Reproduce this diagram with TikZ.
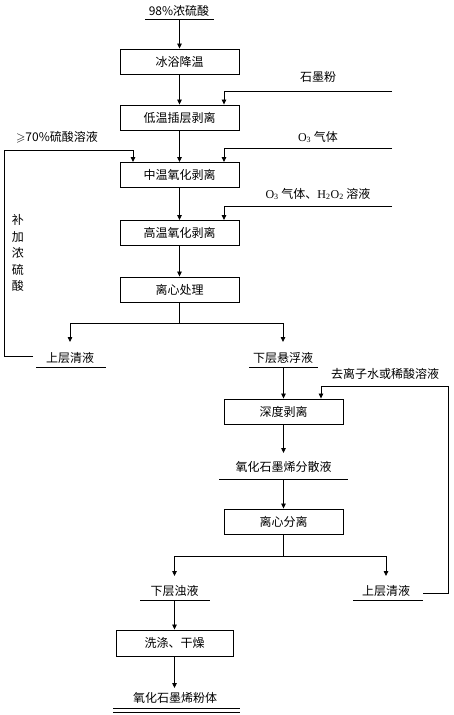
\documentclass[tikz,border=0pt]{standalone}
\usepackage{amssymb}
\usepackage{fontspec}
\newfontfamily\cjk{Noto Sans CJK SC}
\newfontfamily\tnr{Liberation Serif}
\usetikzlibrary{arrows.meta}
\begin{document}
\begin{tikzpicture}[x=1pt,y=-1pt,
  every node/.style={font=\cjk\fontsize{12}{14}\selectfont},
  box/.style={draw, line width=0.9pt, minimum width=119pt, minimum height=25pt, inner sep=0pt},
  lab/.style={inner sep=0pt, text height=10pt, text depth=2pt},
  ln/.style={line width=0.8pt},
  arr/.style={ln, -{Triangle[length=5pt,width=4.5pt]}}]
\useasboundingbox (0,0) rectangle (454,715);

% main column boxes
\node[box] (b1) at (179.5,61.5) {冰浴降温};
\node[box] (b2) at (179.5,117.5) {低温插层剥离};
\node[box] (b3) at (179.5,175) {中温氧化剥离};
\node[box] (b4) at (179.5,233) {高温氧化剥离};
\node[box] (b5) at (179.5,289.5) {离心处理};
\node[box] (b6) at (283.5,411.5) {深度剥离};
\node[box] (b7) at (283.5,521.5) {离心分离};
\node[box, minimum width=117pt, minimum height=26pt] (b8) at (174.5,643) {洗涤、干燥};

% labels
\node[lab] (t0) at (179,11) {98\%浓硫酸};
\node[lab] (t1) at (318,77) {石墨粉};
\node[lab] (t2) at (318,137) {{\tnr O\textsubscript{3}} 气体};
\node[lab] (t3) at (57,137) {$\geqslant$70\%硫酸溶液};
\node[lab] (t4) at (318,194) {{\tnr O\textsubscript{3}} 气体、{\tnr H\textsubscript{2}O\textsubscript{2}} 溶液};
\node[inner sep=0pt, align=center, font=\cjk\fontsize{12}{16.5}\selectfont] (t5) at (18,253) {补\\加\\浓\\硫\\酸};
\node[lab] (t6) at (70,358) {上层清液};
\node[lab] (t7) at (283,358) {下层悬浮液};
\node[lab] (t8) at (385,374) {去离子水或稀酸溶液};
\node[lab] (t9) at (283.5,467) {氧化石墨烯分散液};
\node[lab] (t10) at (174.5,591) {下层浊液};
\node[lab] (t11) at (386,591) {上层清液};
\node[lab] (t12) at (175,698) {氧化石墨烯粉体};

% underlines
\coordinate (u0a) at (145,19); \coordinate (u0b) at (214,19);
\coordinate (u6a) at (36,367); \coordinate (u6b) at (106,367);
\coordinate (u7a) at (249,367); \coordinate (u7b) at (318,367);
\coordinate (u9a) at (219,479); \coordinate (u9b) at (348,479);
\coordinate (u10a) at (140,600); \coordinate (u10b) at (210,600);
\coordinate (u11a) at (353,600); \coordinate (u11b) at (423,600);
\coordinate (u12a) at (113,708); \coordinate (u12b) at (240,708);
\coordinate (u12c) at (113,712); \coordinate (u12d) at (240,712);
\draw[ln] (u0a) -- (u0b);
\draw[ln] (u6a) -- (u6b);
\draw[ln] (u7a) -- (u7b);
\draw[ln] (u9a) -- (u9b);
\draw[ln] (u10a) -- (u10b);
\draw[ln] (u11a) -- (u11b);
\draw[ln] (u12a) -- (u12b);
\draw[ln] (u12c) -- (u12d);

% main flow
\draw[arr] (b1.north |- u0a) -- (b1.north);
\draw[arr] (b1) -- (b2);
\draw[arr] (b2) -- (b3);
\draw[arr] (b3) -- (b4);
\draw[arr] (b4) -- (b5);

% side inputs
\coordinate (s1) at (392,91);
\coordinate (s2) at (392,148);
\coordinate (s3) at (392,206);
\draw[arr] (s1) -| ([xshift=44.5pt]b2.north);
\draw[arr] (s2) -| ([xshift=44.5pt]b3.north);
\draw[arr] (s3) -| ([xshift=44.5pt]b4.north);

% left recycle loop
\coordinate (r0) at (33,356);
\coordinate (r1) at (4,150);
\draw[arr] (r0) -| (r1) -| ([xshift=-46.5pt]b3.north);

% first split
\coordinate (j1) at (179.5,323);
\coordinate (e6) at (70,342);
\coordinate (e7) at (283,342);
\draw[ln] (b5.south) -- (j1);
\draw[arr] (j1) -| (e6);
\draw[arr] (j1) -| (e7);

% deep exfoliation branch
\draw[arr] (b6.north |- u7a) -- (b6.north);
\coordinate (r2) at (423,593);
\coordinate (r3) at (448,386);
\draw[arr] (r2) -| (r3) -| ([xshift=37.5pt]b6.north);
\coordinate (e9) at (283.5,453);
\draw[arr] (b6.south) -- (e9);
\draw[arr] (b7.north |- u9a) -- (b7.north);

% second split
\coordinate (j2) at (283.5,556);
\coordinate (e10) at (174.5,576);
\coordinate (e11) at (386,576);
\draw[ln] (b7.south) -- (j2);
\draw[arr] (j2) -| (e10);
\draw[arr] (j2) -| (e11);

\draw[arr] (b8.north |- u10a) -- (b8.north);
\coordinate (e12) at (174.5,688);
\draw[arr] (b8.south) -- (e12);
\end{tikzpicture}
\end{document}
